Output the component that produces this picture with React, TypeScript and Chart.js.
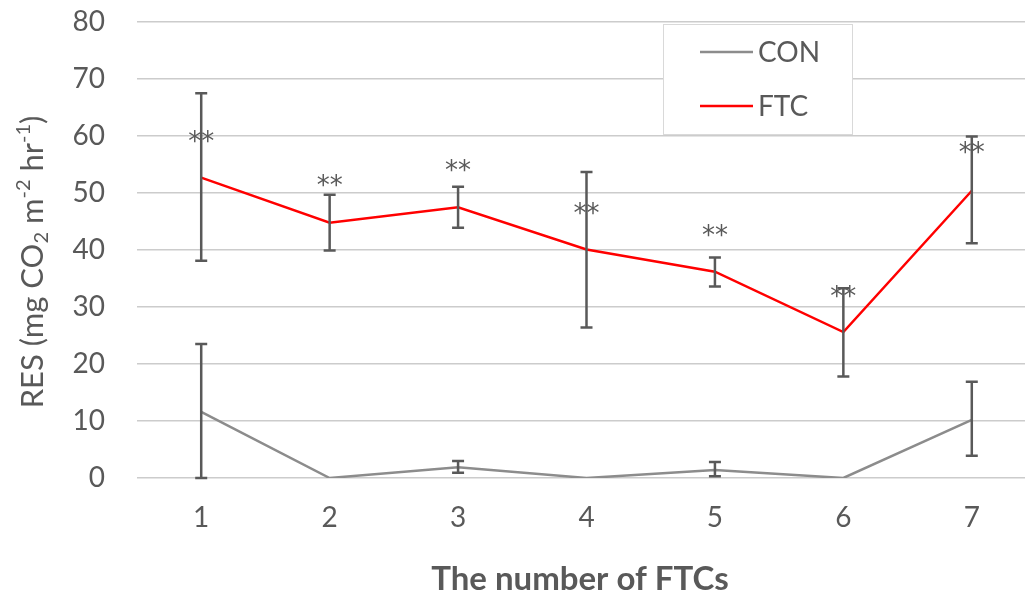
import React, { useEffect, useRef } from "react";
import { Chart, registerables } from "chart.js";

Chart.register(...registerables);

const categories = ["1", "2", "3", "4", "5", "6", "7"];
const conValues = [11.6, 0, 1.9, 0, 1.4, 0, 10.2];
const conLow = [0, 0, 0.9, 0, 0.3, 0, 3.9];
const conHigh = [23.5, 0, 3.0, 0, 2.8, 0, 16.9];
const ftcValues = [52.7, 44.8, 47.5, 40.1, 36.2, 25.6, 50.4];
const ftcLow = [38.1, 39.9, 43.9, 26.4, 33.6, 17.8, 41.2];
const ftcHigh = [67.5, 49.7, 51.1, 53.7, 38.7, 33.3, 59.9];
const starLabels = ["**", "**", "**", "**", "**", "**", "**"];
const starValues = [60.0, 52.2, 54.9, 47.3, 43.5, 32.7, 57.9];
const yMin = 0;
const yMax = 80;
const yStep = 10;
const seriesNames = ["CON", "FTC"];
const seriesColors = ["#8c8c8c", "#ff0000"];
const xTitle = "The number of FTCs";

const TEXT = "#595959";
const FONT = "Lato, 'Open Sans', sans-serif";

const overlay = {
  id: "overlay",
  afterDatasetsDraw(chart: any) {
    const ctx = chart.ctx;
    const xs = chart.scales.x;
    const ys = chart.scales.y;
    ctx.save();
    ctx.strokeStyle = "#595959";
    ctx.lineWidth = 2.5;
    const bars = [
      [conLow, conHigh],
      [ftcLow, ftcHigh],
    ];
    bars.forEach(([lo, hi]) => {
      categories.forEach((_, i) => {
        if (hi[i] - lo[i] <= 0) return;
        const px = xs.getPixelForValue(i);
        const y1 = ys.getPixelForValue(lo[i]);
        const y2 = ys.getPixelForValue(hi[i]);
        ctx.beginPath();
        ctx.moveTo(px, y1);
        ctx.lineTo(px, y2);
        ctx.moveTo(px - 6, y1);
        ctx.lineTo(px + 6, y1);
        ctx.moveTo(px - 6, y2);
        ctx.lineTo(px + 6, y2);
        ctx.stroke();
      });
    });
    ctx.fillStyle = "#595959";
    ctx.font = `26px 'DejaVu Sans', sans-serif`;
    ctx.textAlign = "center";
    ctx.textBaseline = "alphabetic";
    starLabels.forEach((s, i) => {
      const m = ctx.measureText(s);
      const cy = ys.getPixelForValue(starValues[i]);
      const base = cy + (m.actualBoundingBoxAscent - m.actualBoundingBoxDescent) / 2;
      ctx.fillText(s, xs.getPixelForValue(i), base);
    });
    ctx.restore();
  },
  afterDraw(chart: any) {
    const ctx = chart.ctx;
    ctx.save();
    // Legend box
    const bx = 663, by = 24, bw = 189, bh = 110;
    ctx.fillStyle = "#ffffff";
    ctx.fillRect(bx, by, bw, bh);
    ctx.strokeStyle = "#d9d9d9";
    ctx.lineWidth = 1;
    ctx.strokeRect(bx + 0.5, by + 0.5, bw, bh);
    const rows = [52, 106];
    seriesNames.forEach((name, i) => {
      const yy = rows[i];
      ctx.strokeStyle = seriesColors[i];
      ctx.lineWidth = 2.5;
      ctx.beginPath();
      ctx.moveTo(700, yy);
      ctx.lineTo(753, yy);
      ctx.stroke();
      ctx.fillStyle = TEXT;
      ctx.font = `28px ${FONT}`;
      ctx.textAlign = "left";
      ctx.textBaseline = "middle";
      ctx.fillText(name, 758, yy + 1);
    });
    // X title
    ctx.fillStyle = TEXT;
    ctx.font = `bold 33px ${FONT}`;
    ctx.textAlign = "center";
    ctx.textBaseline = "alphabetic";
    ctx.fillText(xTitle, 580, 590);
    // Y title with sub/superscripts
    const size = 31;
    const segs = [
      { t: "RES (mg CO", k: "n" },
      { t: "2", k: "sub" },
      { t: " m", k: "n" },
      { t: "-2", k: "sup" },
      { t: " hr", k: "n" },
      { t: "-1", k: "sup" },
      { t: ")", k: "n" },
    ];
    const fontFor = (k: string) => (k === "n" ? `${size}px ${FONT}` : `${Math.round(size * 0.65)}px ${FONT}`);
    let total = 0;
    segs.forEach((s) => {
      ctx.font = fontFor(s.k);
      total += ctx.measureText(s.t).width;
    });
    ctx.translate(33, 262);
    ctx.rotate(-Math.PI / 2);
    ctx.textAlign = "left";
    ctx.textBaseline = "middle";
    let cx = -total / 2;
    segs.forEach((s) => {
      ctx.font = fontFor(s.k);
      const dy = s.k === "sub" ? size * 0.28 : s.k === "sup" ? -size * 0.32 : 0;
      ctx.fillText(s.t, cx, dy);
      cx += ctx.measureText(s.t).width;
    });
    ctx.restore();
  },
};

export default function App() {
  const ref = useRef<HTMLCanvasElement | null>(null);
  useEffect(() => {
    if (!ref.current) return;
    const chart = new Chart(ref.current, {
      type: "line",
      data: {
        labels: categories,
        datasets: [
          {
            label: seriesNames[0],
            data: conValues,
            borderColor: seriesColors[0],
            backgroundColor: seriesColors[0],
            borderWidth: 2.5,
            pointRadius: 0,
            tension: 0,
          },
          {
            label: seriesNames[1],
            data: ftcValues,
            borderColor: seriesColors[1],
            backgroundColor: seriesColors[1],
            borderWidth: 2.5,
            pointRadius: 0,
            tension: 0,
          },
        ],
      },
      options: {
        responsive: false,
        animation: false,
        devicePixelRatio: 1,
        layout: { padding: { left: 0, right: 14, top: 22, bottom: 0 } },
        plugins: { legend: { display: false }, tooltip: { enabled: false } },
        scales: {
          x: {
            offset: true,
            grid: { display: false, drawTicks: false },
            border: { display: false },
            ticks: { color: TEXT, font: { family: FONT, size: 28 }, padding: 23 },
            afterFit: (s: any) => {
              s.height = 120;
              s.paddingLeft = 0;
              s.paddingRight = 0;
            },
          },
          y: {
            min: yMin,
            max: yMax,
            grid: { color: "#cccccc", lineWidth: 1.5, drawTicks: false },
            border: { display: false },
            ticks: { stepSize: yStep, color: TEXT, font: { family: FONT, size: 28 }, padding: 32 },
            afterFit: (s: any) => {
              s.width = 137;
              s.paddingTop = 0;
              s.paddingBottom = 0;
            },
          },
        },
      },
      plugins: [overlay],
    });
    return () => chart.destroy();
  }, []);
  return (
    <div style={{ position: "fixed", left: 0, top: 0, width: 1025, height: 598, overflow: "hidden", background: "#fff" }}>
      <canvas ref={ref} width={1050} height={598} style={{ display: "block", width: 1050, height: 598 }} />
    </div>
  );
}
